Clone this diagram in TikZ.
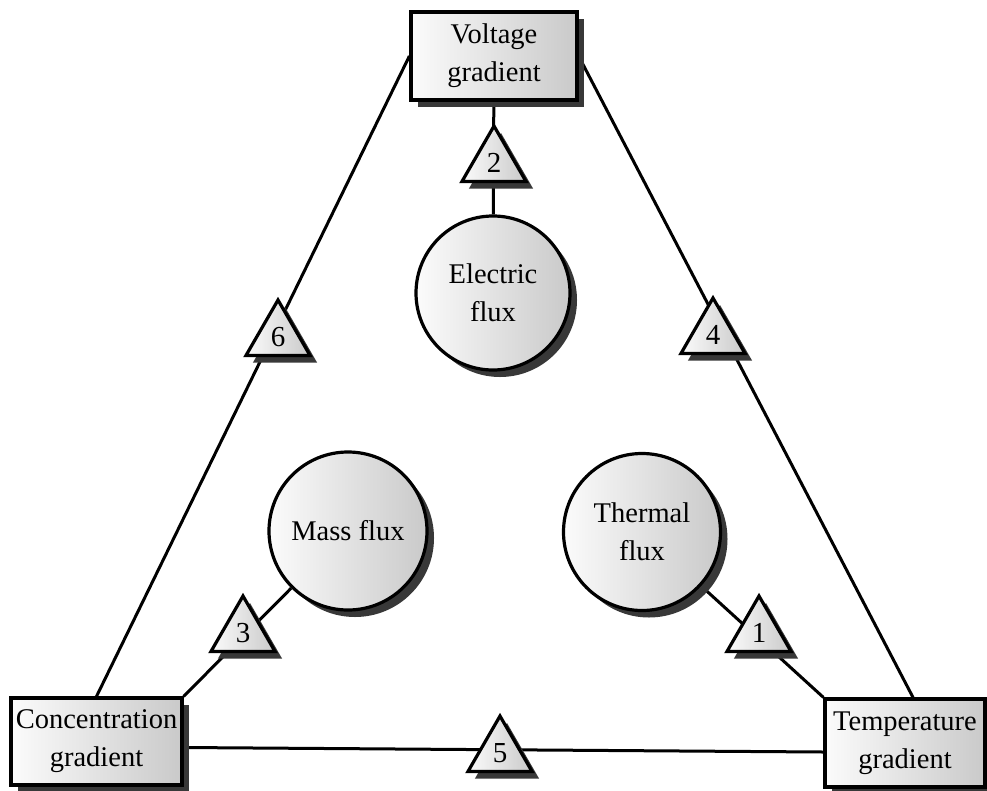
\documentclass[tikz,border=0pt]{standalone}
\usepackage{fontspec}
\setmainfont{Liberation Serif}
\usetikzlibrary{shapes.geometric,shadows,backgrounds}
\tikzset{
  shadebase/.style={left color=gray!3, right color=gray!42, draw=black, line width=3.2pt,
    drop shadow={shadow xshift=7pt, shadow yshift=-7pt, fill=black!78, opacity=1}},
  gradbox/.style={shadebase, rectangle, minimum height=88pt, inner sep=0pt, align=center,
    font=\fontsize{28.5}{38}\selectfont},
  fluxcircle/.style={shadebase, circle, minimum size=156pt, inner sep=0pt, align=center,
    font=\fontsize{28.5}{38}\selectfont},
  coupling/.style={shadebase, regular polygon, regular polygon sides=3, minimum size=74pt,
    inner sep=0pt, font=\fontsize{29}{38}\selectfont},
  link/.style={line width=3pt}
}
\begin{document}
\begin{tikzpicture}[x=1pt,y=-1pt]
\useasboundingbox (0,0) rectangle (987,790);
% gradients
\node[gradbox, minimum width=166pt] (volt) at (494,56) {Voltage\\gradient};
\node[gradbox, minimum width=171pt, minimum height=87pt] (conc) at (96.5,741.5) {Concentration\\gradient};
\node[gradbox, minimum width=160pt] (temp) at (905,743) {Temperature\\gradient};
% fluxes
\node[fluxcircle, minimum size=154pt] (elec) at (493,293) {Electric\\flux};
\node[fluxcircle, minimum size=158pt] (mass) at (348,531) {Mass flux};
\node[fluxcircle, minimum size=157pt] (therm) at (642,532) {Thermal\\flux};
% couplings
\node[coupling] (c2) at (494,163) {2};
\node[coupling] (c6) at (278,337) {6};
\node[coupling] (c4) at (713,335) {4};
\node[coupling] (c3) at (243,633) {3};
\node[coupling] (c1) at (759,633) {1};
\node[coupling] (c5) at (500,753) {5};
\begin{pgfonlayer}{background}
\draw[link] (volt) -- (elec);
\draw[link] (volt.west) -- (conc.north);
\draw[link] (volt.east) -- ([xshift=8pt]temp.north);
\draw[link] ([yshift=-6pt]conc.east) -- ([yshift=-9pt]temp.west);
\draw[link] (conc.north east) -- (mass);
\draw[link] (temp.north west) -- (therm);
\end{pgfonlayer}
\end{tikzpicture}
\end{document}
